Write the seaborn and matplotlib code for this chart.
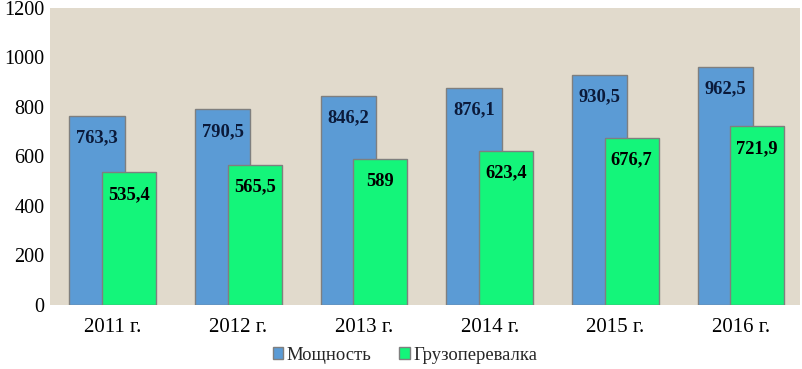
import matplotlib
matplotlib.use("Agg")
import matplotlib.pyplot as plt
import seaborn as sns
import pandas as pd
import numpy as np
from matplotlib.patches import Patch

years = ["2011 г.", "2012 г.", "2013 г.", "2014 г.", "2015 г.", "2016 г."]
capacity = [763.3, 790.5, 846.2, 876.1, 930.5, 962.5]
throughput = [535.4, 565.5, 589, 623.4, 676.7, 721.9]
series_names = ["Мощность", "Грузоперевалка"]

sns.set_style("white")
plt.rcParams['font.family'] = ['Liberation Serif', 'DejaVu Serif']

df = pd.DataFrame({
    "year": years * 2,
    "value": capacity + throughput,
    "series": [series_names[0]] * len(years) + [series_names[1]] * len(years),
})

fig = plt.figure(figsize=(8.02, 3.69), dpi=100)
ax = fig.add_axes([50/802, 1-305/369, 750/802, 297/369])
ax.set_facecolor("#E1DACC")

colors = ["#5B9BD5", "#14F57A"]
sns.barplot(data=df, x="year", y="value", hue="series", palette=colors,
            ax=ax, dodge=True, width=0.88, edgecolor="#7F7F7F", linewidth=1,
            saturation=1, legend=True)

# overlap bars as in the reference
offsets = [-0.125, 0.13]
widths = [0.44, 0.43]
for cont, off, w in zip(ax.containers, offsets, widths):
    for i, p in enumerate(cont.patches):
        p.set_width(w)
        p.set_x(i + off - w/2)

label_colors = ["#0B1A3A", "#000000"]
for vals, lc, off in zip([capacity, throughput], label_colors, offsets):
    for i, v in enumerate(vals):
        txt = (f"{v:g}").replace(".", ",")
        ax.annotate(txt, xy=(i + off, v), xytext=(0, -22), textcoords="offset pixels",
                    ha="center", va="center", fontsize=13.3, fontweight="bold", color=lc)

ax.set_ylim(0, 1200)
ax.set_yticks(range(0, 1201, 200))
ax.set_xlim(-0.5, 5.47)
ax.set_xlabel("")
ax.set_ylabel("")
for s in ax.spines.values():
    s.set_visible(False)
ax.tick_params(axis="x", length=0, labelsize=15, colors="#000000", pad=9)
ax.tick_params(axis="y", length=0, labelsize=14.5, colors="#000000", pad=4)

leg = ax.get_legend()
if leg is not None:
    leg.remove()
handles = [Patch(facecolor=c, edgecolor="#7F7F7F") for c in colors]
fig.legend(handles, series_names, loc="center", bbox_to_anchor=(0.505, 1-355/369),
           ncol=2, frameon=False, fontsize=13.4, handlelength=0.55, handleheight=0.55,
           handletextpad=0.2, columnspacing=1.5)

fig.savefig("out.png", dpi=100, facecolor="white")
